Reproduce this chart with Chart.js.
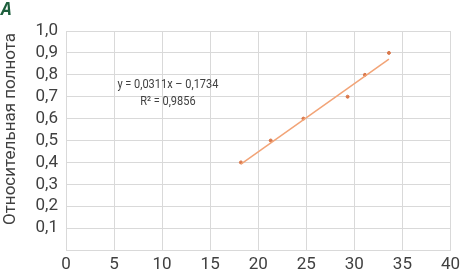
<!DOCTYPE html>
<html>
<head>
<meta charset="utf-8">
<script src="https://cdn.jsdelivr.net/npm/chart.js@4/dist/chart.umd.min.js"></script>
<style>
  body { margin: 0; background: #fff; }
  #wrap { position: relative; width: 465px; height: 273px; }
  #panel { position: absolute; left: 1px; top: -3px; font: italic bold 17px "Open Sans", sans-serif; color: #1d5e3c; }
</style>
</head>
<body>
<div id="wrap">
  <canvas id="chart"></canvas>
  <div id="panel">A</div>
</div>
<script>
// measured points
var xValues = [18.2, 21.3, 24.7, 29.3, 31.1, 33.6];
var yValues = [0.4, 0.5, 0.6, 0.7, 0.8, 0.9];
// trendline as printed on the chart
var slope = 0.0311;
var intercept = -0.1734;
var equationLines = ['y = 0,0311x \u2013 0,1734', 'R\u00b2 = 0,9856'];
var yTitle = 'Относительная полнота';

var points = xValues.map(function (x, i) { return { x: x, y: yValues[i] }; });
var xMin = Math.min.apply(null, xValues);
var xMax = Math.max.apply(null, xValues);
var trend = [
    { x: xMin, y: slope * xMin + intercept },
    { x: xMax, y: slope * xMax + intercept },
];

function commaNum(v, digits) {
    return v.toFixed(digits).replace('.', ',');
}

var textPlugin = {
    id: 'extraText',
    afterDatasetsDraw: function (chart) {
        var ctx = chart.ctx;
        var xs = chart.scales.x, ys = chart.scales.y;
        ctx.save();
        ctx.fillStyle = '#404040';
        ctx.font = '12.5px Roboto, sans-serif';
        ctx.textAlign = 'center';
        ctx.textBaseline = 'middle';
        // equation block, slightly narrowed like the original
        var cx = xs.getPixelForValue(10.6);
        ctx.translate(cx, 0);
        ctx.scale(0.88, 1);
        ctx.fillText(equationLines[0], 0, ys.getPixelForValue(0.753));
        ctx.fillText(equationLines[1], 0, ys.getPixelForValue(0.676));
        ctx.restore();

        // y axis title
        ctx.save();
        ctx.fillStyle = '#404040';
        ctx.font = '17px Roboto, sans-serif';
        ctx.textAlign = 'center';
        ctx.textBaseline = 'middle';
        ctx.translate(11, 129);
        ctx.rotate(-Math.PI / 2);
        ctx.fillText(yTitle, 0, 0);
        ctx.restore();
    }
};

var ctx = document.getElementById('chart').getContext('2d');

var config = {
    type: 'scatter',
    data: {
        datasets: [
            {
                label: 'trend',
                data: trend,
                showLine: true,
                borderColor: '#f2a477',
                borderWidth: 1.5,
                pointRadius: 0,
            },
            {
                label: 'points',
                data: points,
                backgroundColor: '#d9774a',
                borderColor: '#d9774a',
                pointRadius: 1.5,
            },
        ],
    },
    options: {
        responsive: true,
        maintainAspectRatio: false,
        animation: false,
        layout: { padding: { top: 31, right: 8, left: 0, bottom: 0 } },
        plugins: {
            legend: { display: false },
            tooltip: { enabled: false },
        },
        scales: {
            x: {
                type: 'linear',
                min: 0,
                max: 40,
                ticks: {
                    stepSize: 5,
                    autoSkip: false,
                    color: '#404040',
                    font: { family: 'Roboto', size: 17 },
                    padding: 5,
                    maxRotation: 0,
                    callback: function (v) { return String(v); },
                },
                grid: { color: '#d9d9d9', drawTicks: false },
                border: { color: '#d9d9d9' },
                afterFit: function (scale) { scale.height = 23; },
            },
            y: {
                min: 0,
                max: 1,
                ticks: {
                    stepSize: 0.1,
                    autoSkip: false,
                    color: '#404040',
                    font: { family: 'Roboto', size: 17 },
                    padding: 8,
                    callback: function (v) { return v === 0 ? '' : commaNum(v, 1); },
                },
                grid: { color: '#d9d9d9', drawTicks: false },
                border: { color: '#d9d9d9' },
                afterFit: function (scale) { scale.width = 66; },
            },
        },
    },
    plugins: [textPlugin],
};

var myChart = new Chart(ctx, config);
</script>
</body>
</html>
